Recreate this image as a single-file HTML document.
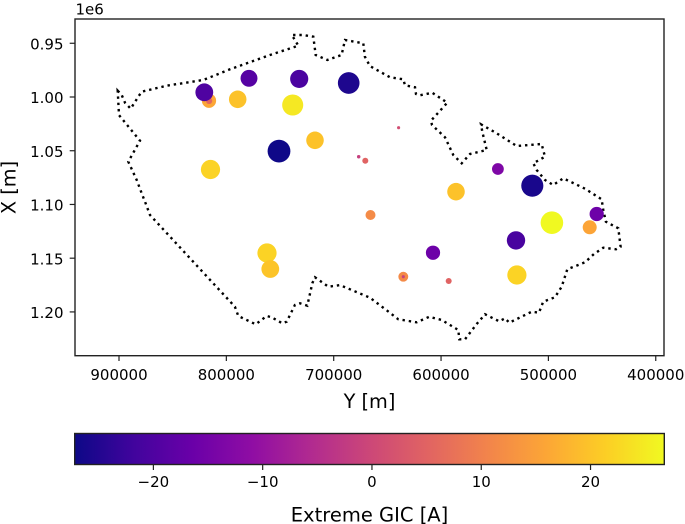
<!DOCTYPE html>
<html>
<head>
<meta charset="utf-8">
<style>
html,body{margin:0;padding:0;background:#fff;}
svg{display:block;filter:blur(0.35px);}
text{font-family:"DejaVu Sans","Liberation Sans",sans-serif;fill:#000;}
</style>
</head>
<body>
<svg id="chart" width="685" height="524" viewBox="0 0 685 524" xmlns="http://www.w3.org/2000/svg">
<defs><linearGradient id="plasma-gradient" x1="0" x2="1" y1="0" y2="0"></linearGradient></defs>
</svg>
<script>
const borderY = [901200,897500,894400,889100,882000,878900,855600,821500,796600,759300,733000,736100,739100,728300,719000,716800,706000,692600,689500,672400,670900,666200,647600,635200,633600,624300,623300,619600,608200,594200,609400,608400,596300,588600,580800,573000,557500,561600,562800,548200,529500,506300,503200,514100,510900,503200,495500,486100,465900,450400,448900,446400,434900,432700,437000,448900,457500,465900,482400,487600,493900,504800,508800,515600,536400,540400,545800,559100,566800,577700,583000,583900,599400,611000,622700,639800,648200,666200,694100,705000,717400,719900,724600,731400,736100,743800,747900,757800,762400,772700,788900,792000,871100,875800,878900,883500,891300,880400,900000];
const borderX = [994100,998100,1005300,1010900,999700,995100,989500,984200,974200,960900,952300,947000,942300,942300,943900,960900,965600,960900,947000,950000,962500,971200,981700,983500,989100,991000,997200,998400,996000,1005300,1022100,1026100,1037500,1054000,1061700,1053000,1049300,1032300,1025400,1033800,1045600,1043700,1055600,1061700,1067900,1077200,1081900,1075700,1085300,1095200,1105200,1116000,1122200,1139300,1141700,1140200,1146100,1153800,1160300,1176500,1186400,1190500,1200700,1199800,1210000,1205900,1208700,1202200,1211200,1225500,1225500,1216800,1207500,1204500,1209700,1206900,1200400,1186800,1175000,1176500,1167800,1173400,1194200,1192000,1193600,1209100,1210600,1205000,1203800,1211500,1203800,1195100,1109800,1097400,1089600,1077200,1060200,1040700,1016800];
const stationY = [816200,816100,820500,789400,778900,732100,686000,738200,717400,751000,814800,676700,670600,639500,547000,515000,586100,665700,496700,455000,461500,530200,607500,635200,635200,592900,529300,762100,759100];
const stationX = [1003400,1003600,995600,1002100,982600,983200,987000,1007400,1040300,1050300,1067500,1055600,1059300,1028600,1067000,1082500,1088100,1109800,1117000,1108900,1121300,1133400,1144900,1167200,1167200,1171200,1165600,1145200,1160100];
const extremeGic = [16,5.5,-20,19.7,-19,-20.5,-25.4,24.6,19.7,-27,22,-1.5,5,1,-13.5,-26,19.7,11.7,26.7,-16,15.7,-20.8,-16,11.5,-1,5,22,22,20];
const xTickValues = [900000,800000,700000,600000,500000,400000];
const yTickValues = [950000,1000000,1050000,1100000,1150000,1200000];
const yTickLabels = ["0.95","1.00","1.05","1.10","1.15","1.20"];
const cbarTickValues = [-20,-10,0,10,20];
const cbarTickLabels = ["\u221220","\u221210","0","10","20"];
const plasmaStops = ["#0d0887","#41049d","#6a00a8","#8f0da4","#b12a90","#cc4778","#e16462","#f2844b","#fca636","#fcce25","#f0f921"];
const colorMin = -27.2;
const colorMax = 26.75;
const magnitudeDomain = [0,5,11.7,15.7,20,27];
const radiusRange = [1.2,3,5,7,8.9,11.4];

const NS = "http://www.w3.org/2000/svg";
const svg = document.getElementById("chart");
const axisColor = "#222";

function xScale(v){ return 119 + (900000 - v) * 107.35 / 100000; }
function yScale(v){ return 97 + (v - 1000000) * 53.73 / 50000; }
function cbarScale(v){ return 74.7 + (v - colorMin) / (colorMax - colorMin) * 589.6; }

function hexToRgb(h){
  return [parseInt(h.slice(1,3),16),parseInt(h.slice(3,5),16),parseInt(h.slice(5,7),16)];
}
function plasma(v){
  let t = (v - colorMin) / (colorMax - colorMin);
  t = Math.max(0, Math.min(1, t)) * (plasmaStops.length - 1);
  const i = Math.min(plasmaStops.length - 2, Math.floor(t));
  const f = t - i;
  const a = hexToRgb(plasmaStops[i]);
  const b = hexToRgb(plasmaStops[i + 1]);
  return "rgb(" + a.map((c, k) => Math.round(c + (b[k] - c) * f)).join(",") + ")";
}
function radiusScale(v){
  const m = Math.min(Math.abs(v), magnitudeDomain[magnitudeDomain.length - 1]);
  for (let i = 0; i < magnitudeDomain.length - 1; i++) {
    if (m <= magnitudeDomain[i + 1]) {
      const f = (m - magnitudeDomain[i]) / (magnitudeDomain[i + 1] - magnitudeDomain[i]);
      return radiusRange[i] + f * (radiusRange[i + 1] - radiusRange[i]);
    }
  }
  return radiusRange[radiusRange.length - 1];
}
function make(tag, attrs, parent){
  const el = document.createElementNS(NS, tag);
  for (const k in attrs) el.setAttribute(k, attrs[k]);
  (parent || svg).appendChild(el);
  return el;
}

/* country border */
const borderPts = borderY.map((y, i) => xScale(y).toFixed(1) + "," + yScale(borderX[i]).toFixed(1)).join(" ");
const borderEl = make("polygon", {points: borderPts, fill: "none", stroke: "#000", "stroke-width": 2.4, "stroke-dasharray": "2.4 3.9"});



/* stations: larger marks first where they overlap, in listed order */
extremeGic.forEach((v, i) => {
  const c = make("circle", {cx: xScale(stationY[i]).toFixed(1), cy: yScale(stationX[i]).toFixed(1), r: radiusScale(v).toFixed(2), fill: plasma(v)});
  
  
});

/* axes frame */
const frame = make("rect", {x: 75, y: 19, width: 589, height: 336.7, fill: "none", stroke: axisColor, "stroke-width": 1.4});



/* x axis */
xTickValues.forEach((v) => {
  const x = xScale(v);
  const t = make("line", {x1: x, x2: x, y1: 355.7, y2: 361, stroke: axisColor, "stroke-width": 1.2});
  
  
  const l = make("text", {x: x, y: 380, "text-anchor": "middle", "font-size": 15});
  l.textContent = String(v);
  
  
});

/* y axis */
yTickValues.forEach((v, i) => {
  const y = yScale(v);
  const t = make("line", {x1: 69.7, x2: 75, y1: y, y2: y, stroke: axisColor, "stroke-width": 1.2});
  
  
  const l = make("text", {x: 63.5, y: y + 6.2, "text-anchor": "end", "font-size": 15});
  l.textContent = yTickLabels[i];
  
  
});

/* titles */
const offsetText = make("text", {x: 75.5, y: 14.5, "font-size": 15});
offsetText.textContent = "1e6";



const xTitle = make("text", {x: 369.5, y: 408, "text-anchor": "middle", "font-size": 19.3});
xTitle.textContent = "Y [m]";



const yTitle = make("text", {x: 15.5, y: 187.5, "text-anchor": "middle", "font-size": 19.3, transform: "rotate(-90 15.5 187.5)"});
yTitle.textContent = "X [m]";



/* colorbar */
const grad = document.getElementById("plasma-gradient");
plasmaStops.forEach((col, i) => {
  make("stop", {offset: (i / (plasmaStops.length - 1)), "stop-color": col}, grad);
});
const bar = make("rect", {x: 74.7, y: 433.5, width: 589.6, height: 31, fill: "url(#plasma-gradient)", stroke: axisColor, "stroke-width": 1.4});



cbarTickValues.forEach((v, i) => {
  const x = cbarScale(v);
  const t = make("line", {x1: x, x2: x, y1: 464.5, y2: 470, stroke: axisColor, "stroke-width": 1.2});
  
  
  const l = make("text", {x: x, y: 487, "text-anchor": "middle", "font-size": 15});
  l.textContent = cbarTickLabels[i];
  
  
});

const cbarTitle = make("text", {x: 369.5, y: 521.5, "text-anchor": "middle", "font-size": 19.5});
cbarTitle.textContent = "Extreme GIC [A]";


</script>
</body>
</html>
